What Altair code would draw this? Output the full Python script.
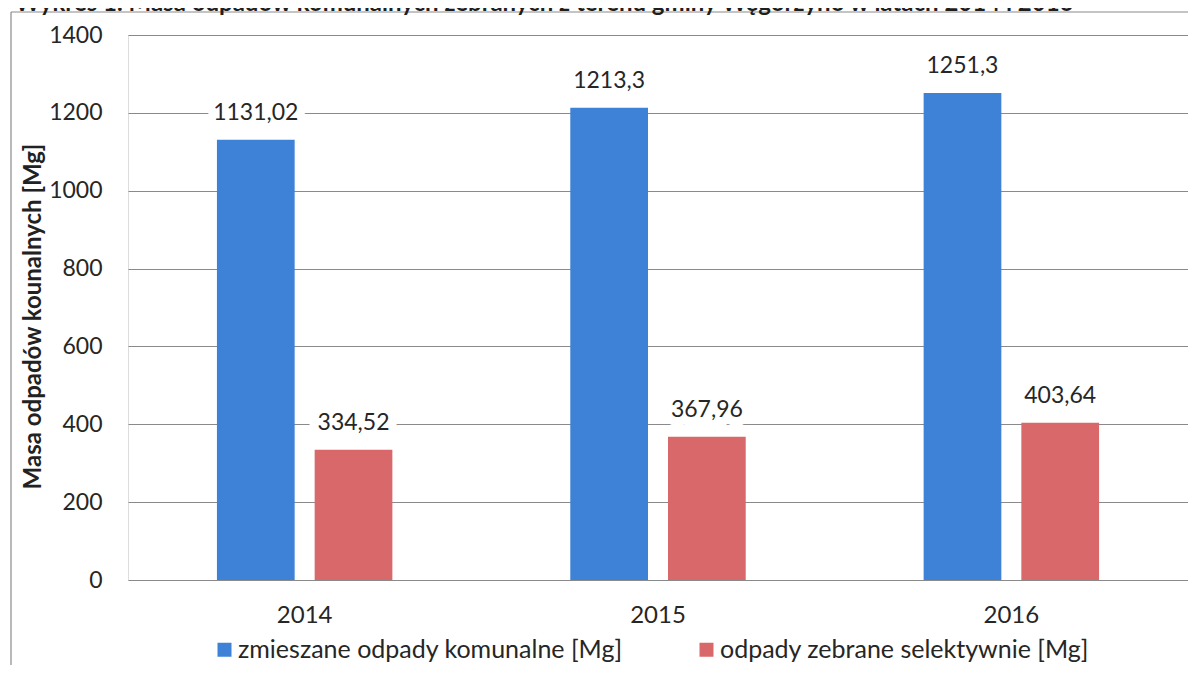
import altair as alt
import pandas as pd

years = ["2014", "2015", "2016"]
series = ["zmieszane odpady komunalne [Mg]", "odpady zebrane selektywnie [Mg]"]
mixed = [1131.02, 1213.3, 1251.3]
selective = [334.52, 367.96, 403.64]
colors = ["#3D82D6", "#D9686A"]
y_ticks = [0, 200, 400, 600, 800, 1000, 1200, 1400]
title_text = "Wykres 1. Masa odpadów komunalnych zebranych z terenu gminy Węgorzyno w latach 2014 i 2016"
y_title = "Masa odpadów kounalnych [Mg]"

rows = []
for i, yr in enumerate(years):
    rows.append({"year": yr, "series": series[0], "value": mixed[i],
                 "label": str(mixed[i]).replace(".", ",")})
    rows.append({"year": yr, "series": series[1], "value": selective[i],
                 "label": str(selective[i]).replace(".", ",")})
df = pd.DataFrame(rows)

FONT = "Lato"
TXT = "#262626"

base = alt.Chart(df).encode(
    x=alt.X("year:N", sort=years,
            scale=alt.Scale(paddingInner=0.5035, paddingOuter=0.2517),
            axis=alt.Axis(title=None, labelAngle=0, domain=False, ticks=False, tickSize=0,
                          grid=False, labelFont=FONT, labelFontSize=24, labelColor=TXT,
                          labelBaseline="middle", labelPadding=35)),
    xOffset=alt.XOffset("series:N", sort=series,
                        scale=alt.Scale(domain=series, paddingInner=0.2047, paddingOuter=0)),
    y=alt.Y("value:Q", scale=alt.Scale(domain=[0, 1400], nice=False),
            axis=alt.Axis(values=y_ticks, format="d", title=y_title, domain=False, ticks=False,
                          tickSize=0, grid=True, gridColor="#8a8a8a", gridWidth=1.2,
                          labelFont=FONT, labelFontSize=23, labelColor=TXT, labelPadding=26,
                          titleFont=FONT, titleFontSize=24, titleFontWeight="bold",
                          titleColor="#222222", titleAngle=-90, titleAlign="center",
                          titleBaseline="middle", titleX=-95, titleY=281)),
)

bars = base.mark_bar().encode(
    color=alt.Color("series:N", sort=series,
                    scale=alt.Scale(domain=series, range=colors),
                    legend=alt.Legend(title=None, orient="none", direction="horizontal",
                                      legendX=84, legendY=602, symbolType="square",
                                      symbolSize=196, symbolStrokeWidth=0,
                                      labelFont=FONT, labelFontSize=25, labelColor=TXT,
                                      labelOffset=1, columnPadding=71, labelLimit=600,
                                      padding=0))
)

halo = base.mark_text(dy=-27, baseline="middle", font=FONT, fontSize=23,
                      stroke="white", strokeWidth=18, strokeJoin="round",
                      fill="white").encode(text="label:N")
labels = base.mark_text(dy=-27, baseline="middle", font=FONT, fontSize=23,
                        color=TXT).encode(text="label:N")

deco = pd.DataFrame({"t": [title_text]})
frame_left = alt.Chart(deco).mark_rule(color="#8a8a8a", strokeWidth=1.2).encode(
    x=alt.value(-117), y=alt.value(-23), y2=alt.value(700))
frame_top = alt.Chart(deco).mark_rule(color="#8a8a8a", strokeWidth=1.2).encode(
    x=alt.value(-117), x2=alt.value(1200), y=alt.value(-23))
title = alt.Chart(deco).mark_text(align="left", baseline="alphabetic", font=FONT,
                                  fontSize=24, fontWeight="bold", color="#1e1e1e").encode(
    x=alt.value(-113), y=alt.value(-24), text="t:N")

chart = alt.layer(frame_left, frame_top, title, bars, halo, labels).properties(
    width=1060, height=545,
    autosize=alt.AutoSizeParams(type="none"),
    padding={"left": 120, "top": 27, "right": 0, "bottom": 85},
).configure_view(stroke=None).configure(background="white")

chart.save("out.html", embed_options={"renderer": "svg", "actions": False})
